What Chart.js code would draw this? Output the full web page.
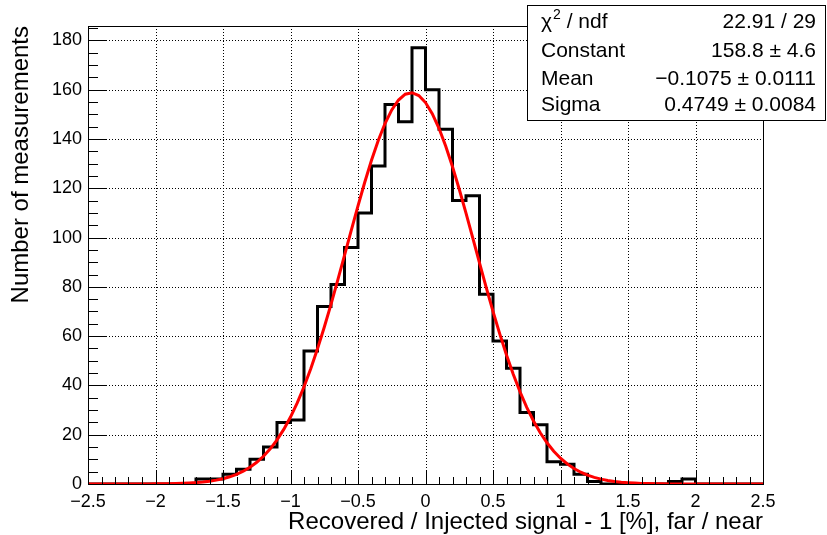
<!DOCTYPE html>
<html>
<head>
<meta charset="utf-8">
<script src="https://cdn.jsdelivr.net/npm/chart.js@4.4.0/dist/chart.umd.min.js"></script>
<style>
  html, body { margin: 0; padding: 0; background: #fff; }
  canvas { display: block; }
</style>
</head>
<body>
<canvas id="grafico" width="827" height="535"></canvas>
<script>
// histograma: 50 bins de 0.1 entre -2.5 e 2.5
const binInicio = -2.5;
const binLargura = 0.1;
const contagens = [
  0, 0, 0, 0, 0, 0, 0, 0,            // -2.5 .. -1.8
  2, 2, 4, 6, 10, 15, 25, 26, 54, 72, // -1.7 .. -0.8
  81, 96, 110, 129, 154, 147, 177,    // -0.7 .. -0.1
  160, 144, 115, 117, 77, 58, 47, 29, 24, 9, // 0.0 .. 0.9
  8, 4, 1,                            // 1.0 .. 1.2
  0, 0, 0, 0, 0,                      // 1.3 .. 1.7
  1, 2,                               // 1.8 .. 1.9
  0, 0, 0, 0, 0                       // 2.0 .. 2.4
];

// parametros do ajuste gaussiano (caixa de estatisticas)
const ajusteConstante = 158.8;
const ajusteMedia = -0.1075;
const ajusteSigma = 0.4749;

const xTicks = [-2.5, -2, -1.5, -1, -0.5, 0, 0.5, 1, 1.5, 2, 2.5];
const xRotulos = ['\u22122.5', '\u22122', '\u22121.5', '\u22121', '\u22120.5', '0', '0.5', '1', '1.5', '2', '2.5'];
const yTicks = [0, 20, 40, 60, 80, 100, 120, 140, 160, 180];

const statNomes = ['\u03C7', 'Constant', 'Mean', 'Sigma'];
const statValores = ['22.91 / 29', '158.8 \u00B1 4.6', '\u22120.1075 \u00B1 0.0111', '0.4749 \u00B1 0.0084'];

const fonte = 'Liberation Sans, Arial, Helvetica, sans-serif';

// pontos do histograma (degraus)
const pontosHist = contagens.map((c, i) => ({ x: binInicio + i * binLargura, y: c }));
pontosHist.push({ x: binInicio + contagens.length * binLargura, y: 0 });

// curva do ajuste (100 pontos, como o ROOT)
const pontosAjuste = [];
for (let i = 0; i <= 100; i++) {
  const x = binInicio + i * (contagens.length * binLargura) / 100;
  const z = (x - ajusteMedia) / ajusteSigma;
  pontosAjuste.push({ x: x, y: ajusteConstante * Math.exp(-0.5 * z * z) });
}

const estiloRoot = {
  id: 'estiloRoot',
  beforeDatasetsDraw(chart) {
    const { ctx, chartArea: a, scales: { x, y } } = chart;
    ctx.save();
    ctx.strokeStyle = '#000';
    ctx.lineWidth = 1;
    ctx.setLineDash([1, 2]);
    xTicks.slice(1, -1).forEach(v => {
      const px = Math.round(x.getPixelForValue(v)) + 0.5;
      ctx.beginPath(); ctx.moveTo(px, a.top); ctx.lineTo(px, a.bottom); ctx.stroke();
    });
    yTicks.slice(1).forEach(v => {
      const py = Math.round(y.getPixelForValue(v)) + 0.5;
      ctx.beginPath(); ctx.moveTo(a.left, py); ctx.lineTo(a.right, py); ctx.stroke();
    });
    ctx.restore();
  },
  afterDatasetsDraw(chart) {
    const { ctx, chartArea: a, scales: { x, y } } = chart;
    ctx.save();
    ctx.strokeStyle = '#000';
    ctx.lineWidth = 1;
    ctx.strokeRect(Math.round(a.left) + 0.5, Math.round(a.top) + 0.5, Math.round(a.right - a.left), Math.round(a.bottom - a.top));

    // marcas do eixo x (para dentro)
    for (let i = 0; i < xTicks.length; i++) {
      for (let k = 0; k < 5; k++) {
        if (i === xTicks.length - 1 && k > 0) break;
        const v = xTicks[i] + k * 0.1;
        const px = Math.round(x.getPixelForValue(v)) + 0.5;
        const len = k === 0 ? 14 : 7;
        ctx.beginPath(); ctx.moveTo(px, a.bottom); ctx.lineTo(px, a.bottom - len); ctx.stroke();
      }
    }
    // marcas do eixo y
    for (let i = 0; i < yTicks.length; i++) {
      for (let k = 0; k < 4; k++) {
        const v = yTicks[i] + k * 5;
        if (v > y.max) break;
        const py = Math.round(y.getPixelForValue(v)) + 0.5;
        const len = k === 0 ? 19 : 10;
        ctx.beginPath(); ctx.moveTo(a.left, py); ctx.lineTo(a.left + len, py); ctx.stroke();
      }
    }
    ctx.restore();
  },
  afterDraw(chart) {
    const ctx = chart.ctx;
    const caixa = { x: 527.5, y: 5.5, w: 298, h: 115 };
    ctx.save();
    ctx.fillStyle = '#fff';
    ctx.fillRect(caixa.x, caixa.y, caixa.w, caixa.h);
    ctx.strokeStyle = '#000';
    ctx.lineWidth = 1;
    ctx.strokeRect(caixa.x, caixa.y, caixa.w, caixa.h);

    ctx.fillStyle = '#000';
    ctx.textBaseline = 'alphabetic';
    const linhas = [28, 57, 85, 111];
    statNomes.forEach((nome, i) => {
      ctx.font = '21px ' + fonte;
      ctx.textAlign = 'left';
      ctx.fillText(nome, 541, linhas[i]);
      if (i === 0) {
        let w = ctx.measureText(nome).width;
        ctx.font = '14px ' + fonte;
        ctx.fillText('2', 541 + w + 1, linhas[i] - 9);
        w += ctx.measureText('2').width + 1;
        ctx.font = '21px ' + fonte;
        ctx.fillText(' / ndf', 541 + w, linhas[i]);
      }
      ctx.textAlign = 'right';
      ctx.fillText(statValores[i], 816, linhas[i]);
    });
    ctx.restore();
  }
};

const ctx = document.getElementById('grafico').getContext('2d');

new Chart(ctx, {
  type: 'line',
  data: {
    datasets: [
      {
        label: 'ajuste',
        data: pontosAjuste,
        borderColor: '#ff0000',
        borderWidth: 3,
        pointRadius: 0,
        tension: 0,
        fill: false,
        order: 0
      },
      {
        label: 'medidas',
        data: pontosHist,
        borderColor: '#000',
        borderWidth: 3,
        pointRadius: 0,
        stepped: 'before',
        borderJoinStyle: 'miter',
        borderCapStyle: 'butt',
        fill: false,
        order: 1
      }
    ]
  },
  options: {
    responsive: false,
    devicePixelRatio: 1,
    animation: false,
    layout: { padding: { top: 26, right: 64, left: 0, bottom: 0 } },
    plugins: { legend: { display: false }, tooltip: { enabled: false } },
    scales: {
      x: {
        type: 'linear',
        min: -2.5,
        max: 2.5,
        afterBuildTicks: s => { s.ticks = xTicks.map(v => ({ value: v })); },
        afterFit: s => { s.height = 51; },
        grid: { display: false, drawTicks: false },
        border: { display: false },
        ticks: {
          autoSkip: false,
          maxRotation: 0,
          padding: 7,
          color: '#000',
          font: { family: fonte, size: 18 },
          callback: valor => xRotulos[xTicks.indexOf(valor)]
        },
        title: {
          display: true,
          text: 'Recovered / Injected signal - 1 [%], far / near',
          align: 'end',
          color: '#000',
          font: { family: fonte, size: 24 },
          padding: { top: 0, bottom: -2 }
        }
      },
      y: {
        type: 'linear',
        min: 0,
        max: 185.85,
        afterBuildTicks: s => { s.ticks = yTicks.map(v => ({ value: v })); },
        afterFit: s => { s.width = 88; },
        grid: { display: false, drawTicks: false },
        border: { display: false },
        ticks: {
          autoSkip: false,
          padding: 6,
          color: '#000',
          font: { family: fonte, size: 18 }
        },
        title: {
          display: true,
          text: 'Number of measurements',
          align: 'end',
          color: '#000',
          font: { family: fonte, size: 24 },
          padding: { top: 7, bottom: 0 }
        }
      }
    }
  },
  plugins: [estiloRoot]
});
</script>
</body>
</html>
